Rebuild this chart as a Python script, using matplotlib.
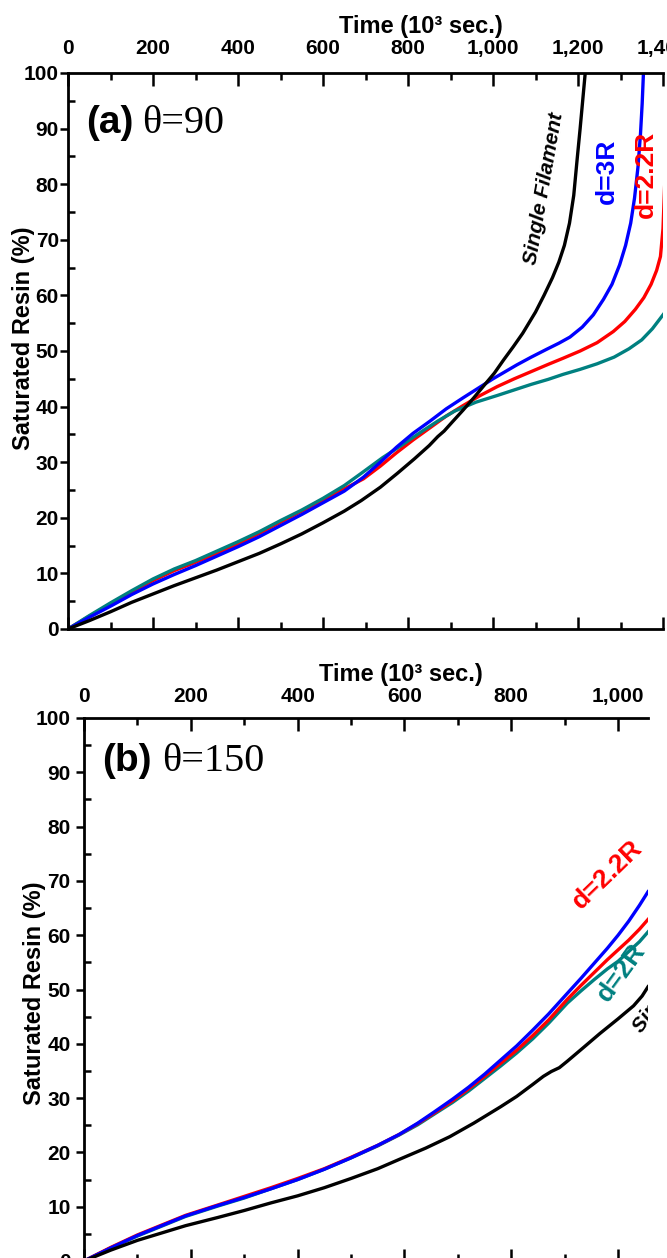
import matplotlib
matplotlib.use("Agg")
import matplotlib.pyplot as plt
from matplotlib.ticker import MultipleLocator, FuncFormatter

# ==========================================================
# Data (time in 10^3 s, saturated resin in %)
# ==========================================================
# (a) theta = 90
single_a_t = [0, 50, 100, 150, 200, 250, 300, 350, 400, 450, 500, 550, 600,
              650, 690, 735, 775, 815, 850, 870, 885, 905, 930, 955, 980, 1003,
              1025, 1048, 1070, 1100, 1120, 1140, 1155, 1168, 1180, 1190, 1198,
              1205, 1211, 1217]
single_a_s = [0, 1.5, 3.1, 4.8, 6.3, 7.8, 9.2, 10.6, 12.1, 13.6, 15.3, 17.1, 19.1,
              21.2, 23.1, 25.5, 28.0, 30.6, 33.0, 34.6, 35.6, 37.3, 39.4, 41.6, 43.9, 46.0,
              48.4, 50.8, 53.2, 57.0, 60.0, 63.2, 66.0, 69.0, 73.0, 78.0, 84.5,
              90.0, 95.0, 100]

d2R_a_t = [0, 50, 100, 150, 200, 250, 300, 350, 400, 450, 500, 550, 600,
           650, 690, 740, 790, 830, 870, 910, 960, 1010, 1050, 1090, 1130, 1165,
           1205, 1245, 1285, 1320, 1350, 1375, 1400, 1410]
d2R_a_s = [0, 2.4, 4.7, 6.9, 9.0, 10.8, 12.3, 14.0, 15.7, 17.5, 19.5, 21.4, 23.5,
           25.8, 28.0, 30.8, 33.3, 35.4, 37.4, 39.2, 40.8, 42.0, 43.0, 44.0, 44.9, 45.8,
           46.7, 47.7, 48.9, 50.4, 52.0, 54.0, 56.5, 57.5]

d22R_a_t = [0, 50, 100, 150, 200, 250, 300, 350, 400, 450, 500, 550, 600,
            650, 695, 735, 773, 812, 852, 890, 930, 970, 1010, 1050, 1090, 1130,
            1165, 1205, 1245, 1283, 1310, 1335, 1355, 1372, 1385, 1394, 1400, 1404, 1408]
d22R_a_s = [0, 2.3, 4.5, 6.7, 8.7, 10.5, 12.0, 13.6, 15.3, 17.2, 19.2, 21.2, 23.2,
            25.2, 27.0, 29.3, 31.7, 34.0, 36.2, 38.3, 40.2, 42.0, 43.6, 45.0, 46.3, 47.6,
            48.7, 50.0, 51.5, 53.5, 55.3, 57.5, 59.6, 62.0, 64.5, 67.0, 72.0, 80.0, 100]

d3R_a_t = [0, 50, 100, 150, 200, 250, 300, 350, 400, 450, 500, 550, 600,
           650, 695, 735, 773, 812, 852, 890, 930, 965, 1000, 1056, 1090, 1126,
           1155, 1181, 1210, 1236, 1260, 1280, 1298, 1312, 1324, 1333, 1341, 1347,
           1351, 1354]
d3R_a_s = [0, 2.1, 4.1, 6.2, 8.1, 9.8, 11.4, 13.1, 14.8, 16.6, 18.6, 20.6, 22.7,
           24.8, 27.3, 30.0, 32.7, 35.2, 37.4, 39.6, 41.6, 43.3, 45.0, 47.5, 48.9, 50.3,
           51.4, 52.5, 54.3, 56.5, 59.3, 62.0, 65.5, 69.0, 73.0, 77.5, 83.0, 89.0,
           94.5, 100]

# (b) theta = 150
single_b_t = [0, 50, 100, 150, 190, 250, 300, 350, 400, 450, 500, 550, 590, 640,
              685, 730, 780, 810, 840, 860, 875, 890, 905, 935, 966, 1000, 1029,
              1045, 1056]
single_b_s = [0, 2.0, 3.8, 5.3, 6.5, 8.0, 9.3, 10.7, 12.0, 13.5, 15.2, 17.0, 18.7, 20.8,
              22.9, 25.4, 28.4, 30.3, 32.5, 34.0, 34.9, 35.6, 36.8, 39.3, 41.9, 44.6, 47.0,
              48.8, 50.5]

tempo_b = [0, 50, 100, 150, 190, 250, 300, 350, 400, 450, 500, 550, 590, 625,
           655, 690, 720, 750, 780, 810, 840, 870, 905, 930, 955, 980, 1000,
           1020, 1040, 1056]
d3R_b_s = [0, 2.4, 4.7, 6.7, 8.3, 10.2, 11.7, 13.3, 15.0, 16.9, 19.0, 21.3, 23.3, 25.4,
           27.4, 29.8, 32.0, 34.4, 37.0, 39.6, 42.5, 45.5, 49.3, 52.0, 54.8, 57.6, 60.0,
           62.6, 65.5, 68.0]
d22R_b_s = [0, 2.5, 4.8, 6.8, 8.4, 10.3, 11.9, 13.5, 15.2, 17.0, 19.1, 21.3, 23.3, 25.3,
            27.2, 29.5, 31.7, 34.0, 36.4, 38.8, 41.5, 44.4, 48.2, 50.7, 53.1, 55.5, 57.3,
            59.1, 61.1, 62.9]
d2R_b_s = [0, 2.4, 4.6, 6.6, 8.2, 10.1, 11.6, 13.3, 15.0, 16.9, 19.0, 21.2, 23.2, 25.1,
           27.0, 29.2, 31.3, 33.6, 35.9, 38.3, 40.9, 43.8, 47.5, 49.7, 51.8, 53.8, 55.2,
           57.0, 58.8, 60.6]

TEAL = "#008080"

plt.rcParams["font.family"] = ["Liberation Sans", "DejaVu Sans"]
plt.rcParams["font.weight"] = "bold"

W, H = 667, 1258
fig = plt.figure(figsize=(W / 100, H / 100), dpi=100)


def eixo_px(left, top, right, bottom):
    return fig.add_axes([left / W, 1 - bottom / H, (right - left) / W, (bottom - top) / H])


def estilo(ax, xmax, pad_x, pad_y):
    ax.set_xlim(0, xmax)
    ax.set_ylim(0, 100)
    ax.xaxis.set_major_locator(MultipleLocator(200))
    ax.xaxis.set_minor_locator(MultipleLocator(100))
    ax.yaxis.set_major_locator(MultipleLocator(10))
    ax.yaxis.set_minor_locator(MultipleLocator(5))
    ax.xaxis.set_major_formatter(FuncFormatter(lambda v, p: f"{int(v):,}"))
    ax.spines["right"].set_visible(False)
    for s in ["top", "bottom", "left"]:
        ax.spines[s].set_linewidth(2)
    ax.xaxis.set_label_position("top")
    ax.tick_params(axis="x", which="both", direction="in", top=True, bottom=True,
                   labeltop=True, labelbottom=False, width=1.8, pad=pad_x)
    ax.tick_params(axis="x", which="major", length=9)
    ax.tick_params(axis="x", which="minor", length=5)
    ax.tick_params(axis="y", which="major", direction="out", length=6, width=1.8,
                   left=True, right=False, pad=pad_y)
    ax.tick_params(axis="y", which="minor", direction="in", length=5, width=1.8,
                   left=True, right=False)
    ax.tick_params(labelsize=15)
    for lab in ax.get_xticklabels() + ax.get_yticklabels():
        lab.set_fontweight("bold")


# ==========================================================
# (a) theta = 90
# ==========================================================
ax_a = eixo_px(68, 73, 663, 629)
ax_a.plot(d22R_a_t, d22R_a_s, color="red", lw=2.4)
ax_a.plot(d2R_a_t, d2R_a_s, color=TEAL, lw=2.4)
ax_a.plot(d3R_a_t, d3R_a_s, color="blue", lw=2.4)
ax_a.plot(single_a_t, single_a_s, color="black", lw=2.4)
estilo(ax_a, 1400, 11, 0.5)
ax_a.set_xlabel("Time (10³ sec.)", fontsize=17, fontweight="bold")
ax_a.xaxis.set_label_coords(0.593, 1.072)
ax_a.set_ylabel("Saturated Resin (%)", fontsize=17, fontweight="bold")
ax_a.yaxis.set_label_coords(-0.0555, 0.523)

ax_a.text(42, 89.2, "(a)", fontsize=28, fontweight="bold", ha="left", va="baseline")
ax_a.text(174, 89.2, "θ=90", fontsize=29, family="Liberation Serif", fontweight="normal",
          ha="left", va="baseline")
ax_a.text(1119, 79.2, "Single Filament", rotation=80, ha="center", va="center",
          fontsize=15, style="italic", fontweight="bold", color="black")
ax_a.text(1269, 82.4, "d=3R", rotation=90, ha="center", va="center",
          fontsize=19, fontweight="bold", color="blue")
ax_a.text(1360, 81.7, "d=2.2R", rotation=90, ha="center", va="center",
          fontsize=19, fontweight="bold", color="red", clip_on=True)

# ==========================================================
# (b) theta = 150
# ==========================================================
ax_b = eixo_px(84, 718, 648, 1261)
ax_b.plot(tempo_b, d2R_b_s, color=TEAL, lw=2.4)
ax_b.plot(tempo_b, d22R_b_s, color="red", lw=2.4)
ax_b.plot(tempo_b, d3R_b_s, color="blue", lw=2.4)
ax_b.plot(single_b_t, single_b_s, color="black", lw=2.4)
estilo(ax_b, 1056, 8.5, 3.6)
ax_b.set_xlabel("Time (10³ sec.)", fontsize=17, fontweight="bold")
ax_b.xaxis.set_label_coords(0.562, 1.068)
ax_b.set_ylabel("Saturated Resin (%)", fontsize=17, fontweight="bold")
ax_b.yaxis.set_label_coords(-0.067, 0.494)

ax_b.text(34, 90.2, "(b)", fontsize=28, fontweight="bold", ha="left", va="baseline")
ax_b.text(146, 90.2, "θ=150", fontsize=29, family="Liberation Serif", fontweight="normal",
          ha="left", va="baseline")
ax_b.text(980, 71.1, "d=2.2R", rotation=44, ha="center", va="center",
          fontsize=19, fontweight="bold", color="red", clip_on=True)
ax_b.text(1006, 53.2, "d=2R", rotation=54, ha="center", va="center",
          fontsize=19, fontweight="bold", color=TEAL, clip_on=True)
ax_b.text(1036, 42.5, "Single Filament", rotation=55, rotation_mode="anchor",
          ha="left", va="center", fontsize=15, style="italic", fontweight="bold",
          color="black", clip_on=True)

fig.savefig("out.png", dpi=100)
